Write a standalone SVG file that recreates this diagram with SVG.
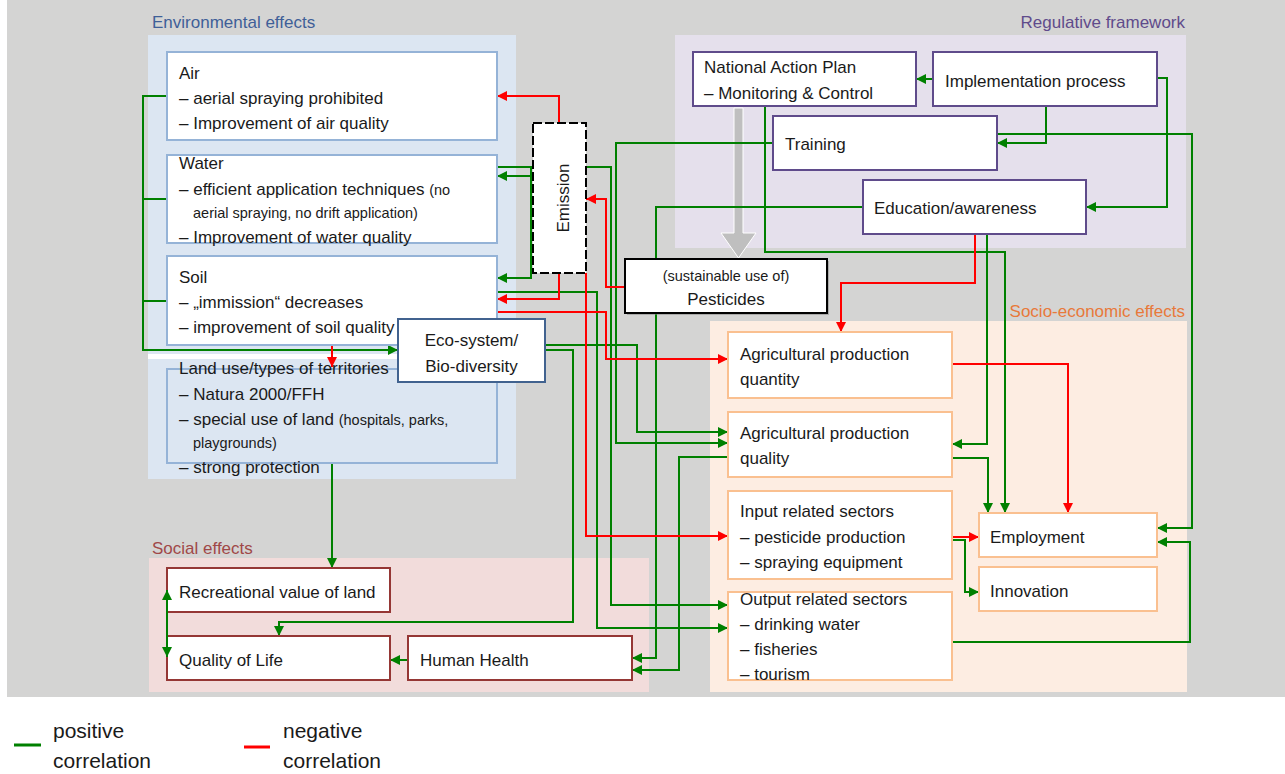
<svg xmlns="http://www.w3.org/2000/svg" width="1285" height="774" viewBox="0 0 1285 774">
  <style>
    text { font-family: "Liberation Sans", Arial, sans-serif; font-size: 17px; fill: #1a1a1a; }
    .sm { font-size: 14.5px; }
    .title { font-size: 17px; }
    .legend { font-size: 21px; }
    .env { fill: #ffffff; stroke: #95b3d7; stroke-width: 2; }
    .reg { fill: #ffffff; stroke: #5f4b8b; stroke-width: 2; }
    .soc { fill: #ffffff; stroke: #fac090; stroke-width: 2; }
    .hum { fill: #ffffff; stroke: #953735; stroke-width: 2; }
    .pos { fill: none; stroke: #008000; stroke-width: 2; }
    .neg { fill: none; stroke: #ff0000; stroke-width: 2; }
    .pa { marker-end: url(#ag); }
    .na { marker-end: url(#ar); }
  </style>
  <defs>
    <marker id="ag" viewBox="0 0 10 10" refX="10" refY="5" markerWidth="11" markerHeight="10" markerUnits="userSpaceOnUse" orient="auto-start-reverse">
      <path d="M0,0 L10,5 L0,10 z" fill="#008000"/>
    </marker>
    <marker id="ar" viewBox="0 0 10 10" refX="10" refY="5" markerWidth="11" markerHeight="10" markerUnits="userSpaceOnUse" orient="auto">
      <path d="M0,0 L10,5 L0,10 z" fill="#ff0000"/>
    </marker>
  </defs>

  <!-- page background -->
  <rect x="0" y="0" width="1285" height="774" fill="#ffffff"/>
  <rect x="7" y="0" width="1278" height="697" fill="#d4d4d3"/>

  <!-- effect areas -->
  <g id="area-environment">
    <rect x="148" y="35" width="368" height="444" fill="#dce6f2"/>
    <rect x="148" y="354" width="250" height="5" fill="#ffffff"/>
    <text class="title" x="152" y="28" style="fill:#3f5f98">Environmental effects</text>
  </g>
  <g id="area-regulation">
    <rect x="675" y="35" width="511" height="213" fill="#e5e0ec"/>
    <text class="title" x="1185" y="28" text-anchor="end" style="fill:#5f4b8b">Regulative framework</text>
  </g>
  <g id="area-socioeconomic">
    <rect x="710" y="321" width="477" height="371" fill="#fdede2"/>
    <text class="title" x="1185" y="317" text-anchor="end" style="fill:#e8793a">Socio-economic effects</text>
  </g>
  <g id="area-social">
    <rect x="149" y="558" width="500" height="134" fill="#f2dcdb"/>
    <text class="title" x="152" y="554" style="fill:#a04848">Social effects</text>
  </g>

  <!-- policy flow arrow -->
  <path id="policy-arrow" d="M734,108 H743 V233 H756 L738.5,258 L721,233 H734 Z" fill="#bfbfbf" stroke="#ffffff" stroke-width="1"/>

  <!-- connectors -->
  <g id="connectors">
    <!-- positive correlations -->
    <path class="pos pa" d="M167,96 H143 V350 H398"/>
    <path class="pos" d="M143,199 H167 M143,301 H167"/>
    <path class="pos pa" d="M332,463 V568"/>
    <path class="pos pa" d="M531,167 V278 H497"/>
    <path class="pos pa" d="M531,176 H497"/>
    <path class="pos pa" d="M497,167 H611 V605 H728"/>
    <path class="pos pa" d="M497,292 H597 V628 H728"/>
    <path class="pos pa" d="M773,143 H616 V443 H728"/>
    <path class="pos pa" d="M545,345 H637 V432 H728"/>
    <path class="pos pa" d="M545,350 H573 V622 H279 V636"/>
    <path class="pos pa" d="M863,207 H656 V658 H632"/>
    <path class="pos pa" d="M728,457 H679 V670 H632"/>
    <path class="pos pa" d="M765,106 V252 H1005 V513"/>
    <path class="pos pa" d="M987,234 V444 H952"/>
    <path class="pos pa" d="M952,458 H988 V513"/>
    <path class="pos pa" d="M997,134 H1192 V528 H1157"/>
    <path class="pos pa" d="M1046,106 V143 H997"/>
    <path class="pos pa" d="M1157,78 H1167 V207 H1086"/>
    <path class="pos pa" d="M933,79 H916"/>
    <path class="pos pa" d="M952,642 H1190 V542 H1157"/>
    <path class="pos pa" d="M952,540 H965 V592 H979"/>
    <path class="pos pa" d="M408,660 H390"/>
    <!-- negative correlations -->
    <path class="neg na" d="M559,123 V96 H497"/>
    <path class="neg na" d="M625,287 H606 V199 H586"/>
    <path class="neg na" d="M559,273 V299 H497"/>
    <path class="neg na" d="M497,312 H606 V359 H728"/>
    <path class="neg na" d="M586,273 V536 H728"/>
    <path class="neg na" d="M332,345 V367"/>
    <path class="neg na" d="M975,234 V283 H841 V332"/>
    <path class="neg na" d="M952,364 H1068 V513"/>
    <path class="neg na" d="M952,537 H979"/>
  </g>

  <!-- environmental effects -->
  <g id="node-air">
    <rect class="env" x="167" y="52" width="330" height="88"/>
    <text x="179" y="79">Air</text>
    <text x="179" y="104">– aerial spraying prohibited</text>
    <text x="179" y="129">– Improvement of air quality</text>
  </g>
  <g id="node-water">
    <rect class="env" x="167" y="155" width="330" height="88"/>
    <text x="179" y="169">Water</text>
    <text x="179" y="195">– efficient application techniques <tspan class="sm">(no</tspan></text>
    <text class="sm" x="193" y="218">aerial spraying, no drift application)</text>
    <text x="179" y="243">– Improvement of water quality</text>
  </g>
  <g id="node-soil">
    <rect class="env" x="167" y="256" width="330" height="89"/>
    <text x="179" y="283">Soil</text>
    <text x="179" y="308">– „immission“ decreases</text>
    <text x="179" y="333">– improvement of soil quality</text>
  </g>
  <g id="node-landuse">
    <rect x="167" y="369" width="330" height="94" fill="none" stroke="#95b3d7" stroke-width="2"/>
    <text x="179" y="374">Land use/types of territories</text>
    <text x="179" y="400">– Natura 2000/FFH</text>
    <text x="179" y="425">– special use of land <tspan class="sm">(hospitals, parks,</tspan></text>
    <text class="sm" x="193" y="448">playgrounds)</text>
    <text x="179" y="473">– strong protection</text>
  </g>
  <g id="node-ecosystem">
    <rect x="398" y="319" width="147" height="63" fill="#ffffff" stroke="#41628f" stroke-width="2"/>
    <text x="471.5" y="346" text-anchor="middle">Eco-system/</text>
    <text x="471.5" y="372" text-anchor="middle">Bio-diversity</text>
  </g>
  <g id="node-emission">
    <rect x="533" y="123" width="53" height="150" fill="#ffffff" stroke="#000000" stroke-width="2" stroke-dasharray="9 3"/>
    <text x="569" y="198" text-anchor="middle" transform="rotate(-90 569 198)">Emission</text>
  </g>
  <g id="node-pesticides">
    <rect x="627" y="261" width="202" height="54" fill="#7f7f7f" opacity="0.5"/>
    <rect x="625" y="259" width="202" height="54" fill="#ffffff" stroke="#000000" stroke-width="2"/>
    <text class="sm" x="726" y="281" text-anchor="middle">(sustainable use of)</text>
    <text x="726" y="305" text-anchor="middle">Pesticides</text>
  </g>

  <!-- regulative framework -->
  <g id="node-nap">
    <rect class="reg" x="693" y="52" width="223" height="54"/>
    <text x="704" y="73">National Action Plan</text>
    <text x="704" y="99">– Monitoring &amp; Control</text>
  </g>
  <g id="node-implementation">
    <rect class="reg" x="933" y="52" width="224" height="54"/>
    <text x="945" y="87">Implementation process</text>
  </g>
  <g id="node-training">
    <rect class="reg" x="773" y="116" width="224" height="54"/>
    <text x="785" y="150">Training</text>
  </g>
  <g id="node-education">
    <rect class="reg" x="863" y="180" width="223" height="54"/>
    <text x="874" y="214">Education/awareness</text>
  </g>

  <!-- socio-economic effects -->
  <g id="node-agri-quantity">
    <rect class="soc" x="728" y="332" width="224" height="66"/>
    <text x="740" y="360">Agricultural production</text>
    <text x="740" y="385">quantity</text>
  </g>
  <g id="node-agri-quality">
    <rect class="soc" x="728" y="412" width="224" height="65"/>
    <text x="740" y="439">Agricultural production</text>
    <text x="740" y="464">quality</text>
  </g>
  <g id="node-input">
    <rect class="soc" x="728" y="491" width="224" height="88"/>
    <text x="740" y="517">Input related sectors</text>
    <text x="740" y="543">– pesticide production</text>
    <text x="740" y="568">– spraying equipment</text>
  </g>
  <g id="node-output">
    <rect class="soc" x="728" y="592" width="224" height="88"/>
    <text x="740" y="605">Output related sectors</text>
    <text x="740" y="630">– drinking water</text>
    <text x="740" y="655">– fisheries</text>
    <text x="740" y="680">– tourism</text>
  </g>
  <g id="node-employment">
    <rect class="soc" x="979" y="513" width="178" height="44"/>
    <text x="990" y="543">Employment</text>
  </g>
  <g id="node-innovation">
    <rect class="soc" x="979" y="567" width="178" height="44"/>
    <text x="990" y="597">Innovation</text>
  </g>

  <!-- social effects -->
  <g id="node-recreation">
    <rect class="hum" x="167" y="568" width="223" height="44"/>
    <text x="179" y="598">Recreational value of land</text>
  </g>
  <g id="node-quality-of-life">
    <rect class="hum" x="167" y="636" width="223" height="44"/>
    <text x="179" y="666">Quality of Life</text>
  </g>
  <g id="node-health">
    <rect class="hum" x="408" y="636" width="224" height="44"/>
    <text x="420" y="666">Human Health</text>
  </g>

  <!-- two-way link drawn over the box edges -->
  <g id="connectors-front">
    <path class="pos" d="M167,590 V657" marker-start="url(#ag)" marker-end="url(#ag)"/>
  </g>

  <!-- legend -->
  <g id="legend">
    <path d="M14,745 H41" stroke="#008000" stroke-width="3"/>
    <text class="legend" x="53" y="738">positive</text>
    <text class="legend" x="53" y="768">correlation</text>
    <path d="M244,747 H270" stroke="#ff0000" stroke-width="3"/>
    <text class="legend" x="283" y="738">negative</text>
    <text class="legend" x="283" y="768">correlation</text>
  </g>
</svg>
